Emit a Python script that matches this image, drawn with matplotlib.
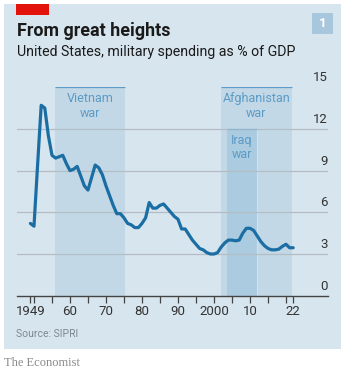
import matplotlib
matplotlib.use("Agg")
import matplotlib.pyplot as plt
from matplotlib.patches import Rectangle
import numpy as np

years = list(range(1949, 2023))
spending = [5.2, 5.0, 9.4, 13.7, 13.5, 11.5, 10.1, 9.9, 10.0, 10.1, 9.5, 9.0,
            9.1, 9.3, 8.6, 7.9, 7.6, 8.5, 9.4, 9.2, 8.7, 7.9, 7.2, 6.5, 5.9,
            5.9, 5.6, 5.2, 5.1, 4.9, 4.9, 5.2, 5.6, 6.7, 6.3, 6.3, 6.5, 6.6,
            6.3, 6.0, 5.7, 5.5, 4.8, 4.8, 4.4, 4.0, 3.7, 3.4, 3.3, 3.1, 3.0,
            3.0, 3.1, 3.5, 3.8, 4.0, 4.0, 3.95, 4.0, 4.5, 4.85, 4.85, 4.7, 4.3,
            3.9, 3.6, 3.4, 3.3, 3.3, 3.35, 3.55, 3.7, 3.45, 3.45]

wars = ["Vietnam\nwar", "Afghanistan\nwar", "Iraq\nwar"]
war_start = [1955.8, 2001.9, 2003.5]
war_end = [1975.3, 2021.6, 2011.9]
war_top = [15, 15, 12]

yticks = [0, 3, 6, 9, 12, 15]
xticks_major = [1949, 1960, 1970, 1980, 1990, 2000, 2010, 2022]
xtick_labels = ["1949", "60", "70", "80", "90", "2000", "10", "22"]
xticks_minor = [1950, 1955, 1965, 1975, 1985, 1995, 2005, 2015, 2020]

W, H = 345, 374
fig = plt.figure(figsize=(W / 100, H / 100), dpi=100)
fig.patch.set_facecolor("white")

BG = "#d7e5ee"
SHADE = "#c3d8e6"
IRAQ = "#abcbe0"
LINE = "#1a6ea3"
LABEL = "#5b9bc6"
GRID = "#b4bdc3"
TXT = "#333333"
FONT = "Roboto"

def fx(px):
    return px / W

def fy(py):
    return 1 - py / H

# panel
fig.patches.append(Rectangle((fx(4), fy(349)), fx(341) - fx(4), fy(4) - fy(349),
                             transform=fig.transFigure, facecolor=BG, edgecolor="none", zorder=-10))
fig.patches.append(Rectangle((fx(16), fy(15)), fx(49) - fx(16), fy(4) - fy(15),
                             transform=fig.transFigure, facecolor="#e3120b", edgecolor="none", zorder=-5))
fig.patches.append(Rectangle((fx(312), fy(34)), fx(333) - fx(312), fy(13) - fy(34),
                             transform=fig.transFigure, facecolor="#a8c7dc", edgecolor="none", zorder=-5))
fig.text(fx(322.5), fy(23.5), "1", color="white", fontsize=9.5, fontweight="bold",
         family=FONT, ha="center", va="center")

fig.text(fx(17), fy(36), "From great heights", fontsize=12.9, fontweight="bold",
         family=FONT, color="#1a1a1a", ha="left", va="baseline")
fig.text(fx(17), fy(56), "United States, military spending as % of GDP", fontsize=10.2,
         family=FONT, color="#1a1a1a", ha="left", va="baseline")

ax = fig.add_axes([fx(17), fy(295.7), fx(328) - fx(17), fy(87.2) - fy(295.7)])
ax.set_facecolor("none")
ax.set_xlim(1945.28, 2031.67)
ax.set_ylim(0, 15)
for s in ["top", "right", "left"]:
    ax.spines[s].set_visible(False)
ax.spines["bottom"].set_color("#444444")
ax.spines["bottom"].set_linewidth(1.0)

# war shading
for name, s, e, t in zip(wars, war_start, war_end, war_top):
    col = IRAQ if name.startswith("Iraq") else SHADE
    ax.fill_between([s, e], 0, t, color=col, lw=0, zorder=1)
    ax.plot([s, e], [t, t], color="#5e9cc7" if t == 15 else "#8fb5cf", lw=0.9, zorder=2,
            solid_capstyle="butt")
ax.axvline(war_end[2], ymin=0, ymax=12 / 15, color="#d2e2ec", lw=0.8, zorder=1.5)

# gridlines
for y in yticks[1:-1]:
    ax.axhline(y, color=GRID, lw=0.9, zorder=1.8)

for name, s, e, t in zip(wars, war_start, war_end, war_top):
    cx = (s + e) / 2
    if name.startswith("Iraq"):
        cx = 2007.7
    ax.text(cx, t - 0.35, name, ha="center", va="top", color=LABEL, fontsize=9,
            family=FONT, linespacing=1.15, zorder=3)

ax.plot(years, spending, color=LINE, lw=2.3, zorder=4, solid_joinstyle="round",
        solid_capstyle="round")

ax.set_yticks([])
for y in yticks:
    ax.text(2031.5, y + 0.22, str(y), ha="right", va="bottom", fontsize=9.5,
            family=FONT, color=TXT)

ax.set_xticks(xticks_major)
ax.set_xticklabels(xtick_labels, family=FONT, fontsize=9.5, color=TXT)
ax.set_xticks(xticks_minor, minor=True)
ax.tick_params(axis="x", which="both", length=5, width=0.9, color="#444444", pad=2)

fig.text(fx(16), fy(337), "Source: SIPRI", fontsize=7.5, family=FONT, color="#7d8990",
         ha="left", va="baseline")
fig.text(fx(4), fy(366), "The Economist", fontsize=9, family="Liberation Serif",
         color="#8a8a8a", ha="left", va="baseline")

fig.savefig("out.png", dpi=100, facecolor="white")
